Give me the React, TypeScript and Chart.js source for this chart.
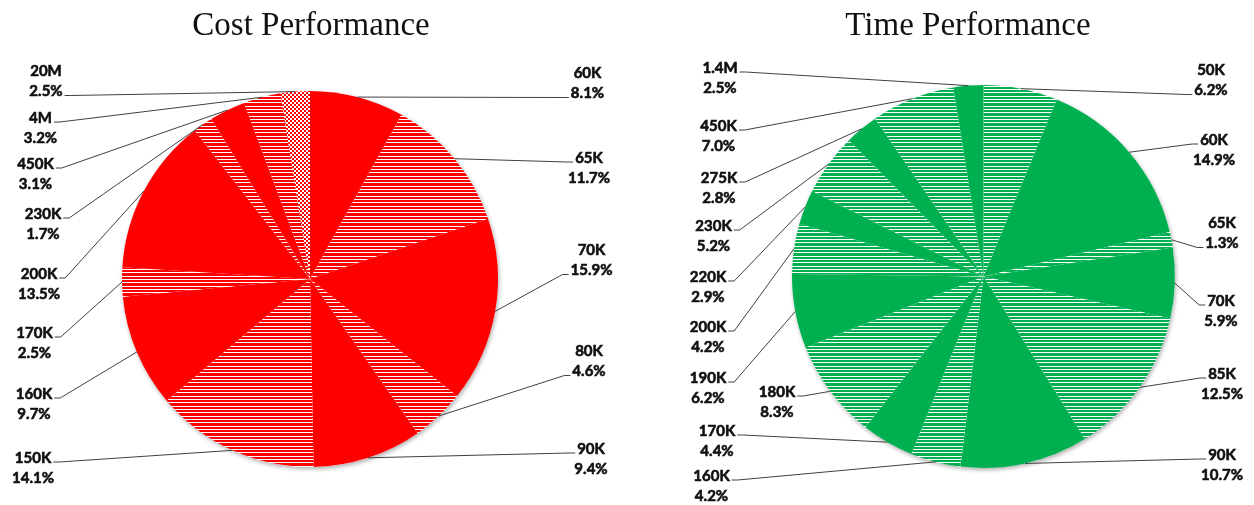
import { useEffect, useRef } from 'react';
import { Chart, PieController, ArcElement } from 'chart.js';
import type { Plugin } from 'chart.js';

Chart.register(PieController, ArcElement);

// ---- data (clockwise from 12 o'clock) ----
const COST_LABELS = ['60K', '65K', '70K', '80K', '90K', '150K', '160K', '170K', '200K', '230K', '450K', '4M', '20M'];
const COST_SHARE = [8.1, 11.7, 15.9, 4.6, 9.4, 14.1, 9.7, 2.5, 13.5, 1.7, 3.1, 3.2, 2.5];

const TIME_LABELS = ['50K', '60K', '65K', '70K', '85K', '90K', '160K', '170K', '180K', '190K', '200K', '220K', '230K', '275K', '450K', '1.4M'];
const TIME_SHARE = [6.2, 14.9, 1.3, 5.9, 12.5, 10.7, 4.2, 4.4, 8.3, 6.2, 4.2, 2.9, 5.2, 2.8, 7.0, 2.5];

// ---- label layout: [centre x, first line y, line the leader meets] ----
type Spot = [number, number, number];

const COST_SPOTS: Spot[] = [
  [587.5, 73, 1], [589, 158, 0], [591.5, 250, 1], [589, 351, 1], [591, 449, 0],
  [33, 458, 0], [34, 394, 0], [34.5, 333, 0], [39, 274, 0], [43, 214, 0],
  [35.5, 164, 0], [40.5, 118, 0], [46, 71, 1],
];

const TIME_SPOTS: Spot[] = [
  [1211, 70, 1], [1214, 140, 0], [1222, 223, 1], [1221, 301, 0], [1222, 374, 0], [1222, 455, 0],
  [711.5, 476, 0], [717, 431, 0], [777, 392, 0], [708, 378, 0], [708, 327, 0], [708, 277, 0],
  [713.5, 226, 0], [719, 178, 0], [718.5, 126, 0], [720, 68, 0],
];

const W = 1254;
const H = 505;
const LINE_GAP = 20.5;
const LABEL_FONT = 'bold 15px Lato';
const TITLE_FONT = '33px "Liberation Serif"';

function stripes(color: string) {
  const c = document.createElement('canvas');
  c.width = 6; c.height = 10;
  const g = c.getContext('2d')!;
  g.fillStyle = color; g.fillRect(0, 0, 6, 7);
  g.fillStyle = '#ffffff'; g.fillRect(0, 7, 6, 3);
  const p = g.createPattern(c, 'repeat')!;
  p.setTransform(new DOMMatrix().scale(1 / 3));
  return p;
}

function dots(color: string) {
  const c = document.createElement('canvas');
  c.width = 4; c.height = 4;
  const g = c.getContext('2d')!;
  g.fillStyle = color; g.fillRect(0, 0, 4, 4);
  g.fillStyle = '#ffffff';
  g.fillRect(0, 0, 2, 2);
  g.fillRect(2, 2, 2, 2);
  return g.createPattern(c, 'repeat')!;
}

interface PieProps {
  title: string;
  titleX: number;
  labels: string[];
  shares: number[];
  spots: Spot[];
  color: string;
  firstStriped?: boolean;
  dotted?: string;
  padding: { left: number; right: number; top: number; bottom: number };
}

function decor(p: PieProps): Plugin<'pie'> {
  return {
    id: 'decor',
    beforeDatasetsDraw(chart) {
      const arc = chart.getDatasetMeta(0).data[0] as any;
      if (!arc) return;
      const { x, y, outerRadius } = arc.getProps(['x', 'y', 'outerRadius'], true);
      const ctx = chart.ctx;
      ctx.save();
      ctx.shadowColor = 'rgba(0,0,0,0.32)';
      ctx.shadowBlur = 4;
      ctx.shadowOffsetX = 1;
      ctx.shadowOffsetY = 2;
      ctx.fillStyle = '#ffffff';
      ctx.beginPath();
      ctx.arc(x, y, outerRadius, 0, Math.PI * 2);
      ctx.fill();
      ctx.restore();
    },
    afterDatasetsDraw(chart) {
      const ctx = chart.ctx;
      ctx.save();
      ctx.font = TITLE_FONT;
      ctx.fillStyle = '#111111';
      ctx.textAlign = 'center';
      ctx.textBaseline = 'alphabetic';
      ctx.fillText(p.title, p.titleX, 35);

      ctx.font = LABEL_FONT;
      ctx.textBaseline = 'middle';
      chart.getDatasetMeta(0).data.forEach((el: any, i) => {
        const { x, y, startAngle, endAngle, outerRadius } =
          el.getProps(['x', 'y', 'startAngle', 'endAngle', 'outerRadius'], true);
        const mid = (startAngle + endAngle) / 2;
        const ex = x + Math.cos(mid) * outerRadius;
        const ey = y + Math.sin(mid) * outerRadius;
        const [cx, ty, which] = p.spots[i];
        const lines = [p.labels[i], p.shares[i].toFixed(1) + '%'];
        const onLeft = cx < x;
        const w = ctx.measureText(lines[which]).width;
        const ay = ty + which * LINE_GAP + 4;
        const ax = onLeft ? cx + w / 2 + 2 : cx - w / 2 - 2;
        const kx = onLeft ? ax + 6 : ax - 6;
        ctx.strokeStyle = '#404040';
        ctx.lineWidth = 1;
        ctx.beginPath();
        ctx.moveTo(ex, ey);
        ctx.lineTo(kx, ay);
        ctx.lineTo(ax, ay);
        ctx.stroke();
        // a thin outline makes Lato read as heavy as the original labels
        ctx.strokeStyle = '#111111';
        ctx.lineWidth = 0.6;
        lines.forEach((t, k) => {
          ctx.fillText(t, cx, ty + k * LINE_GAP);
          ctx.strokeText(t, cx, ty + k * LINE_GAP);
        });
      });
      ctx.restore();
    },
  };
}

function PieChart(p: PieProps) {
  const canvasRef = useRef<HTMLCanvasElement>(null);
  const chartRef = useRef<Chart<'pie'> | null>(null);

  useEffect(() => {
    if (!canvasRef.current) return;
    chartRef.current?.destroy();

    const solid = p.color;
    const striped = stripes(p.color);
    const dotted = dots(p.color);
    const shift = p.firstStriped ? 1 : 0;
    const fills = p.labels.map((l, i) =>
      l === p.dotted ? dotted : (i + shift) % 2 === 0 ? solid : striped);

    chartRef.current = new Chart(canvasRef.current, {
      type: 'pie',
      data: {
        labels: p.labels,
        datasets: [{
          data: p.shares,
          backgroundColor: fills as any,
          borderWidth: 0,
          offset: 0,
          hoverOffset: 0,
        }],
      },
      options: {
        animation: false,
        responsive: false,
        events: [],
        layout: { padding: p.padding },
      },
      plugins: [decor(p)],
    });

    return () => { chartRef.current?.destroy(); chartRef.current = null; };
  }, []);

  return (
    <canvas
      ref={canvasRef}
      width={W}
      height={H}
      style={{ position: 'absolute', left: 0, top: 0, width: W, height: H }}
    />
  );
}

export default function App() {
  return (
    <div style={{ position: 'absolute', left: 0, top: 0, width: W, height: H, background: '#fff' }}>
      <PieChart
        title="Cost Performance"
        titleX={311}
        labels={COST_LABELS}
        shares={COST_SHARE}
        spots={COST_SPOTS}
        color="#ff0000"
        dotted="20M"
        padding={{ left: 122, right: W - 498, top: 91, bottom: H - 467 }}
      />
      <PieChart
        title="Time Performance"
        titleX={968}
        labels={TIME_LABELS}
        shares={TIME_SHARE}
        spots={TIME_SPOTS}
        color="#00b050"
        firstStriped
        padding={{ left: 792, right: W - 1175, top: 85, bottom: H - 468 }}
      />
    </div>
  );
}
